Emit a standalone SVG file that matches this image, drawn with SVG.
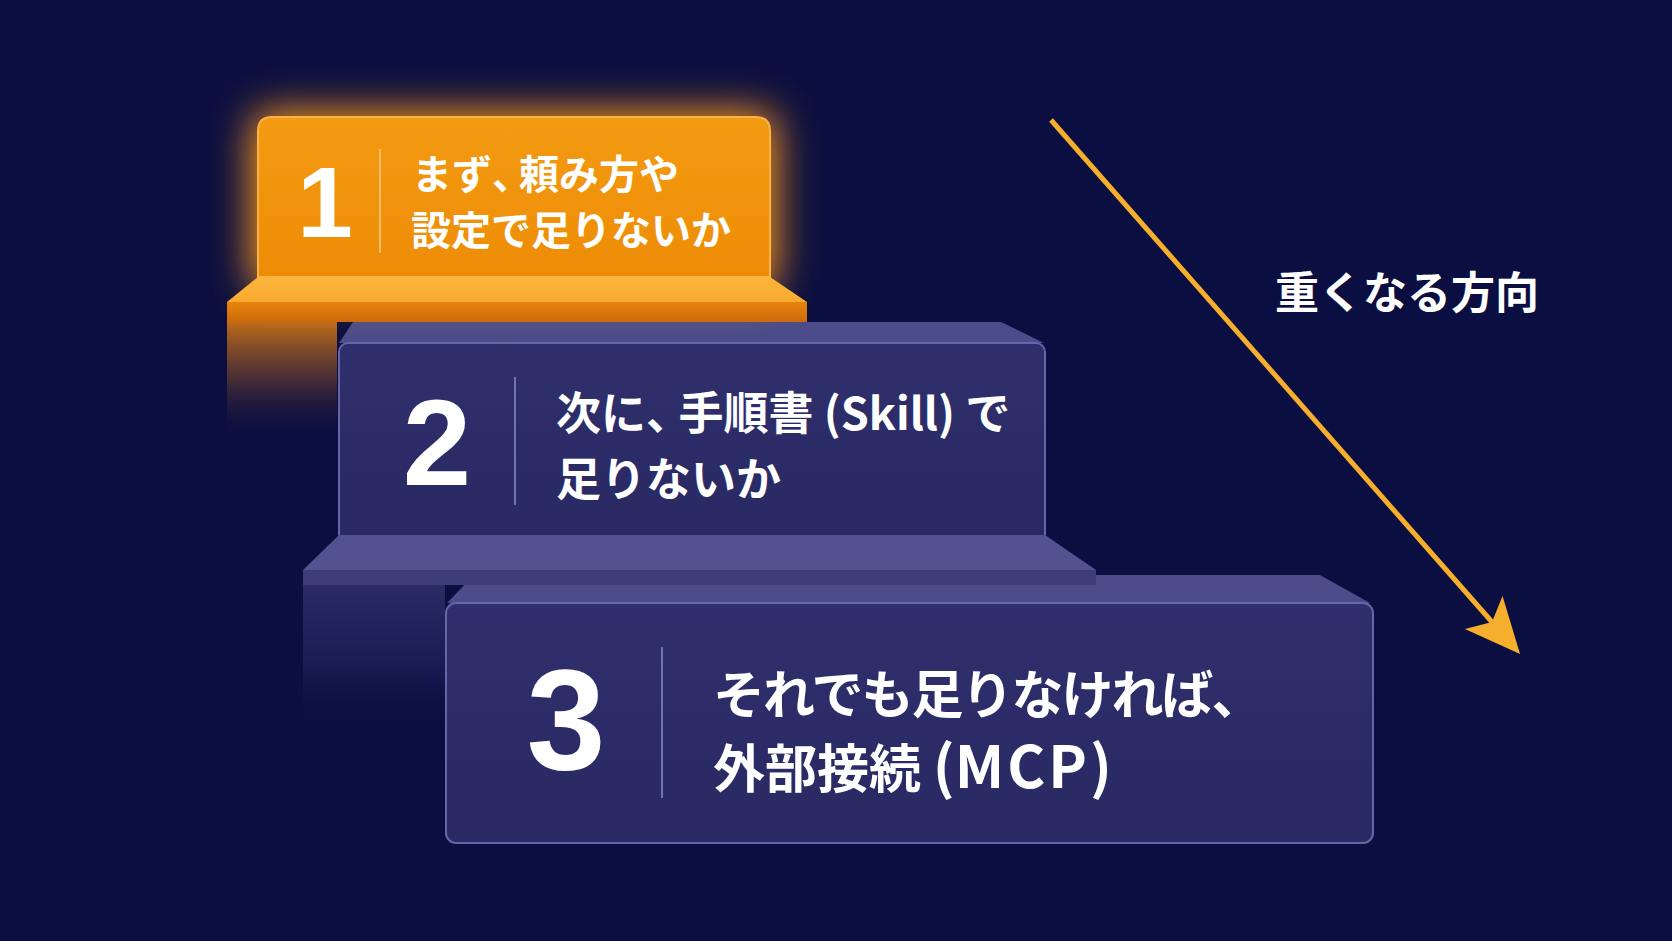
<svg xmlns="http://www.w3.org/2000/svg" width="1672" height="941" viewBox="0 0 1672 941">
  <style>
    .jp { font-family: "Noto Sans CJK JP", "Noto Sans", sans-serif; font-weight: 700; fill: #ffffff; }
    .num { font-family: "Liberation Sans", Arial, sans-serif; font-weight: 700; fill: #ffffff; text-anchor: middle; }
    .navy-front { fill: url(#navyFront); stroke: #6466a8; stroke-width: 2; }
    .navy-top { fill: #4b4c89; }
    .navy-ledge-top { fill: #51528f; }
    .navy-ledge-front { fill: #3c3d79; }
    .div-navy { stroke: #7173b3; stroke-width: 2; }
    .palt { font-feature-settings: "palt"; }
  </style>
  <defs>
    <linearGradient id="navyFront" x1="0" y1="0" x2="0" y2="1">
      <stop offset="0" stop-color="#2e2f6c"/>
      <stop offset="1" stop-color="#292a63"/>
    </linearGradient>
    <linearGradient id="orangePanel" x1="0" y1="0" x2="0" y2="1">
      <stop offset="0" stop-color="#f39b12"/>
      <stop offset="1" stop-color="#ee8c06"/>
    </linearGradient>
    <linearGradient id="orangeLedgeTop" x1="0" y1="0" x2="0" y2="1">
      <stop offset="0" stop-color="#fdb53c"/>
      <stop offset="1" stop-color="#f8aa30"/>
    </linearGradient>
    <linearGradient id="orangeLedgeFront" x1="0" y1="0" x2="0" y2="1">
      <stop offset="0" stop-color="#e8840c"/>
      <stop offset="1" stop-color="#cc6a0c"/>
    </linearGradient>
    <linearGradient id="orangeColumn" x1="0" y1="0" x2="0" y2="1">
      <stop offset="0" stop-color="#c06c18" stop-opacity="1"/>
      <stop offset="0.45" stop-color="#6a3f30" stop-opacity="0.7"/>
      <stop offset="1" stop-color="#0b0e40" stop-opacity="0"/>
    </linearGradient>
    <linearGradient id="navyColumn" x1="0" y1="0" x2="0" y2="1">
      <stop offset="0" stop-color="#2e2f6a" stop-opacity="1"/>
      <stop offset="0.6" stop-color="#1d1f58" stop-opacity="0.8"/>
      <stop offset="1" stop-color="#0b0e40" stop-opacity="0"/>
    </linearGradient>
    <filter id="glow" x="-40%" y="-80%" width="180%" height="260%">
      <feGaussianBlur stdDeviation="20"/>
    </filter>
    <marker id="arrowHead" markerUnits="userSpaceOnUse" markerWidth="60" markerHeight="60" viewBox="-12 -22 48 44" refX="0" refY="0" orient="auto" overflow="visible">
      <path d="M34,0 L-10,-20 L0,0 L-10,20 Z" fill="#f6ae2d"/>
    </marker>
  </defs>

  <rect x="0" y="0" width="1672" height="941" fill="#0b0e40"/>

  <g id="node-3">
    <polygon class="navy-top" points="474,575 1320,575 1370,603 447,603"/>
    <rect class="navy-front" x="446" y="603" width="927" height="240" rx="10"/>
    <line class="div-navy" x1="662" y1="647" x2="662" y2="798"/>
    <text class="num" x="566" y="769" font-size="142">3</text>
    <text class="jp" x="713" y="714" font-size="52" letter-spacing="-2">それでも足りなければ、</text>
    <text class="jp" x="713" y="788" font-size="52">外部接続 <tspan font-size="58">(<tspan letter-spacing="3">MCP</tspan>)</tspan></text>
  </g>

  <g id="node-2">
    <rect x="303" y="570" width="142" height="160" fill="url(#navyColumn)"/>
    <polygon class="navy-top" points="353,322 1001,322 1044,343 339,343"/>
    <rect class="navy-front" x="339" y="343" width="706" height="200" rx="9"/>
    <polygon class="navy-ledge-top" points="339,535 1045,535 1096,570 303,570"/>
    <rect class="navy-ledge-front" x="303" y="570" width="793" height="15"/>
    <line class="div-navy" x1="515" y1="377" x2="515" y2="505"/>
    <text class="num" x="437" y="485" font-size="123">2</text>
    <text class="jp" x="556" y="430" font-size="45">次に<tspan class="palt">、</tspan><tspan dx="10">手順書 (Skill) で</tspan></text>
    <text class="jp" x="556" y="496" font-size="45">足りないか</text>
  </g>

  <g id="node-1">
    <rect x="252" y="112" width="524" height="180" rx="16" fill="#ff9a18" filter="url(#glow)"/>
    <rect x="227" y="322" width="110" height="120" fill="url(#orangeColumn)"/>
    <path d="M258,277 L258,131 Q258,117 272,117 L756,117 Q770,117 770,131 L770,277 Z" fill="url(#orangePanel)" stroke="#f9b24a" stroke-width="2"/>
    <polygon points="258,277 770,277 807,302 227,302" fill="url(#orangeLedgeTop)"/>
    <rect x="227" y="302" width="580" height="20" fill="url(#orangeLedgeFront)"/>
    <line x1="380" y1="149" x2="380" y2="253" stroke="#fbc47a" stroke-width="2" opacity="0.85"/>
    <text class="num" x="325" y="237" font-size="100">1</text>
    <text class="jp" x="412" y="189" font-size="40">まず<tspan class="palt">、</tspan><tspan dx="7">頼み方や</tspan></text>
    <text class="jp" x="411" y="245" font-size="40">設定で足りないか</text>
  </g>

  <g id="connectors">
    <line x1="1051" y1="120" x2="1492" y2="622" stroke="#f6ae2d" stroke-width="5" marker-end="url(#arrowHead)"/>
  </g>

  <g id="label">
    <text class="jp" x="1275" y="309" font-size="44">重くなる方向</text>
  </g>
</svg>
